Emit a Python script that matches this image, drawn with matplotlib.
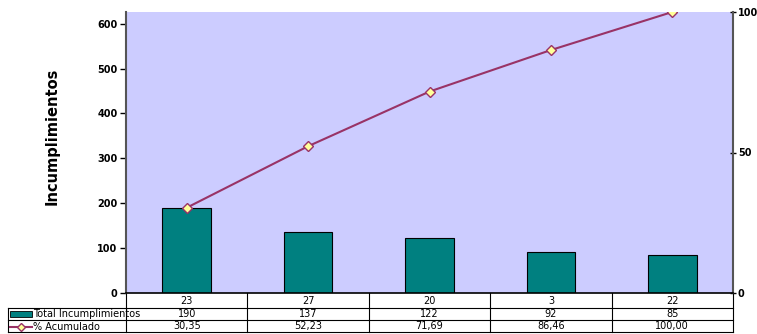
import matplotlib
matplotlib.use('Agg')
import matplotlib.pyplot as plt
from matplotlib.lines import Line2D
from matplotlib.patches import Rectangle
from matplotlib.transforms import blended_transform_factory

categorias = ['23', '27', '20', '3', '22']
incumplimientos = [190, 137, 122, 92, 85]
acumulado = [30.35, 52.23, 71.69, 86.46, 100.00]
acumulado_txt = ['30,35', '52,23', '71,69', '86,46', '100,00']

W, H = 757, 334
fig = plt.figure(figsize=(W / 100, H / 100), dpi=100)

def fx(px):
    return px / W

def fy(py):
    return 1 - py / H

ax = fig.add_axes([fx(126), fy(293), fx(733) - fx(126), fy(12) - fy(293)])
ax.set_facecolor('#CCCCFF')
x = list(range(len(categorias)))
ax.bar(x, incumplimientos, width=0.4, color='#008080', edgecolor='black', linewidth=0.8, zorder=2)
ax.set_xlim(-0.5, len(categorias) - 0.5)
ax.set_ylim(0, sum(incumplimientos))
ax.set_yticks([0, 100, 200, 300, 400, 500, 600])
ax.set_xticks([])
for s in ['top', 'bottom', 'right']:
    ax.spines[s].set_visible(False)
ax.spines['left'].set_color('#555555')
ax.spines['left'].set_linewidth(1.5)
ax.tick_params(axis='y', direction='out', length=4, width=1, pad=2, labelsize=7)
for t in ax.get_yticklabels():
    t.set_fontweight('bold')
ax.set_ylabel('Incumplimientos', fontsize=10.5, fontweight='bold')
ax.yaxis.set_label_coords(-0.109, 0.559)

ax2 = ax.twinx()
ax2.plot(x, acumulado, color='#993366', linewidth=1.5, marker='D', markersize=5,
         markerfacecolor='#FFFF99', markeredgecolor='#993366', markeredgewidth=1, zorder=3)
ax2.set_ylim(0, 100)
ax2.set_yticks([0, 50, 100])
for s in ['top', 'bottom', 'left']:
    ax2.spines[s].set_visible(False)
ax2.spines['right'].set_color('#555555')
ax2.spines['right'].set_linewidth(1.5)
ax2.tick_params(axis='y', direction='inout', length=5, width=1, pad=1, labelsize=7)
for t in ax2.get_yticklabels():
    t.set_fontweight('bold')

# bottom axis line
fig.add_artist(Line2D([fx(126), fx(733)], [fy(293), fy(293)], color='black', linewidth=1.2))

# data table
rows_y = [293, 308, 320, 332]
tr = blended_transform_factory(ax.transData, fig.transFigure)
lc = 'black'
for py in rows_y[1:]:
    fig.add_artist(Line2D([fx(8), fx(733)], [fy(py), fy(py)], color=lc, linewidth=0.8))
fig.add_artist(Line2D([fx(8), fx(8)], [fy(308), fy(332)], color=lc, linewidth=0.8))
for b in [-0.5 + i for i in range(len(categorias) + 1)]:
    ax.add_artist(Line2D([b, b], [fy(293), fy(332)], color=lc, linewidth=0.8,
                         transform=tr, clip_on=False))

for i in x:
    ax.text(i, fy(300.5), categorias[i], transform=tr, ha='center', va='center', fontsize=7)
    ax.text(i, fy(314), str(incumplimientos[i]), transform=tr, ha='center', va='center', fontsize=7)
    ax.text(i, fy(326.5), acumulado_txt[i], transform=tr, ha='center', va='center', fontsize=7)

fig.add_artist(Rectangle((fx(10), fy(316.5)), fx(22), fy(311) - fy(316.5),
                         facecolor='#008080', edgecolor='black', linewidth=0.6))
fig.text(fx(33), fy(314), 'Total Incumplimientos', ha='left', va='center', fontsize=7)
fig.add_artist(Line2D([fx(10), fx(32)], [fy(326.5), fy(326.5)], color='#993366', linewidth=1.5))
fig.add_artist(Line2D([fx(21)], [fy(326.5)], marker='D', markersize=4, markerfacecolor='#FFFF99',
                      markeredgecolor='#993366', linestyle='none'))
fig.text(fx(33), fy(326.5), '% Acumulado', ha='left', va='center', fontsize=7)

fig.savefig('out.png', dpi=100)
